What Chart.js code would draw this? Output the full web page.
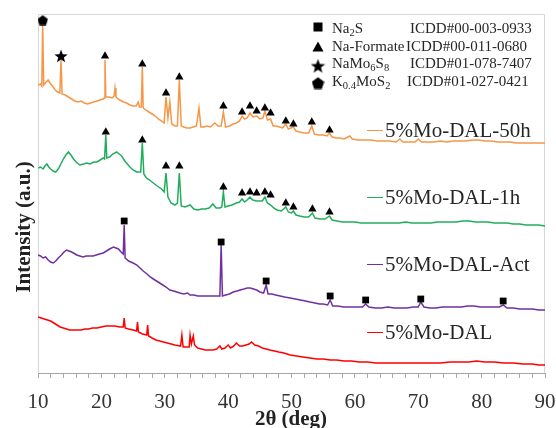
<!DOCTYPE html>
<html>
<head>
<meta charset="utf-8">
<script src="https://cdn.jsdelivr.net/npm/chart.js@4/dist/chart.umd.min.js"></script>
<style>
  html, body { margin: 0; padding: 0; background: #fff; }
</style>
</head>
<body>
<canvas id="xrd" width="556" height="428"></canvas>
<script>
// sample names and line colours (top to bottom)
const sampleNames = ['5%Mo-DAL-50h', '5%Mo-DAL-1h', '5%Mo-DAL-Act', '5%Mo-DAL'];
const lineColors = ['#f79646', '#22ad5c', '#7030a0', '#ff0000'];

// 5%Mo-DAL-50h
const tt50h = [10.0,10.4,10.6,10.74,10.9,11.3,11.6,11.9,12.3,12.7, 13.1,13.45,13.63,13.8,14.3,14.8,15.3,15.8,16.3,16.8,
  17.3,17.8,18.3,18.8,19.3,19.8,20.3,20.45,20.57,20.7, 21.2,21.7,22.0,22.15,22.3,22.9,23.5,24.0,24.5,25.0,
  25.5,25.8,26.0,26.3,26.46,26.6,27.0,27.5,28.0,28.5, 29.0,29.5,29.9,30.2,30.5,30.8,31.1,31.6,32.0,32.3,
  32.6,33.0,33.5,34.0,34.5,35.0,35.4,35.7,36.2,36.7, 37.2,37.9,38.4,38.9,39.25,39.6,40.2,40.8,41.3,41.8,
  42.2,42.6,43.0,43.45,43.9,44.5,45.0,45.5,45.8,46.2, 46.7,47.1,47.6,48.1,48.6,49.1,49.5,50.3,50.7,51.3,
  52.0,52.7,53.2,53.6,54.3,55.0,55.6,56.0,56.4,57.0, 57.6,58.3,59.2,59.6,60.5,61.5,62.5,63.5,64.5,65.5,
  66.5,67.1,67.6,68.5,69.5,70.0,70.5,71.5,72.5,73.5, 74.5,75.5,76.5,77.5,78.5,79.5,80.5,81.5,82.5,83.5,
  84.5,85.5,86.5,87.5,88.5,89.5,90.0];
const int50h = [288,289,287,348,288,291,293,290,287,283, 281,280,313,279,278,276,274,272,271,272,
  270,269,270,271,272,273,274,275,313,276, 276,275,277,285,276,273,271,270,268,267,
  267,271,266,266,306,265,263,261,259,257, 254,252,250,276,255,271,249,247,247,293,
  247,246,245,245,246,247,265,246,246,247, 246,250,247,247,261,246,247,249,250,252,
  257,254,255,260,256,257,254,255,262,253, 254,247,247,246,245,249,244,246,242,241,
  240,240,247,239,238,238,237,240,236,235, 235,234,237,234,233,233,233,232,232,232,
  231,234,231,231,231,234,231,231,231,232, 231,232,232,232,233,233,232,232,231,231,
  231,230,230,230,230,230,230];

// 5%Mo-DAL-1h
const tt1h = [10.0,10.4,10.8,11.1,11.4,11.7,12.0,12.4,12.8,13.2, 13.6,14.0,14.4,14.8,15.2,15.6,16.0,16.6,17.2,17.7,
  18.2,18.8,19.3,19.8,20.3,20.5,20.7,20.85,21.3,21.8, 22.4,22.8,23.2,23.7,24.1,24.5,25.0,25.6,26.2,26.46,
  26.7,27.1,27.6,28.2,28.8,29.5,29.9,30.2,30.5,31.0, 31.6,32.0,32.3,32.6,33.2,34.0,34.6,35.2,35.8,36.4,
  37.0,37.6,38.1,38.7,39.0,39.25,39.5,40.0,40.6,41.3, 41.8,42.2,42.6,43.0,43.45,43.9,44.5,45.0,45.4,45.8,
  46.2,46.7,47.2,47.7,48.4,49.1,49.5,50.0,50.3,50.7, 51.3,52.0,52.7,53.3,53.7,54.5,55.3,56.0,56.4,57.2,
  58.0,59.0,60.0,61.0,62.0,63.0,64.0,65.0,66.0,67.0, 68.0,69.0,70.0,71.0,72.0,73.0,74.0,75.0,76.0,77.0,
  78.0,79.0,80.0,81.0,82.0,83.0,84.0,85.0,86.0,87.0, 88.0,89.0,90.0];
const int1h = [205,206,204,207,209,206,204,202,201,204, 209,214,218,221,218,214,211,208,209,210,
  209,211,211,213,215,214,238,215,216,219, 221,219,217,212,209,206,203,201,201,230,
  199,195,193,190,187,184,181,200,176,170, 168,170,200,167,166,168,164,163,164,164,
  165,169,165,165,166,181,166,167,168,170, 171,174,171,173,176,173,172,172,172,176,
  170,168,165,163,162,166,161,160,162,158, 157,156,156,160,155,154,154,157,153,152,
  151,151,151,150,150,150,150,150,150,150, 151,150,150,150,150,151,151,151,151,152,
  152,151,151,151,150,150,150,149,149,148, 148,148,147];

// 5%Mo-DAL-Act
const ttAct = [10.0,10.4,10.8,11.2,11.6,12.0,12.4,12.8,13.2,13.7, 14.1,14.5,14.9,15.3,15.6,16.1,16.6,17.1,17.6,18.1,
  18.7,19.2,19.7,20.3,20.8,21.3,21.9,22.3,22.7,23.1, 23.45,23.6,23.75,24.3,25.0,25.6,26.1,26.6,27.2,27.7,
  28.2,28.7,29.2,29.7,30.2,30.8,31.4,31.9,32.4,33.0, 33.6,34.0,34.6,35.2,35.8,36.4,37.0,37.6,38.2,38.7,
  38.9,39.1,39.6,40.2,40.8,41.4,41.9,42.5,43.0,43.5, 44.0,44.5,45.0,45.6,46.0,46.3,46.9,47.5,48.2,48.9,
  49.8,50.6,51.4,52.2,52.9,53.7,54.4,55.0,55.7,56.1, 56.5,57.3,58.2,59.2,60.3,61.2,61.7,62.2,63.2,64.2,
  65.2,66.2,67.2,68.2,69.2,70.0,70.4,70.9,71.8,72.8, 73.8,74.8,75.8,76.8,77.8,78.8,79.8,80.8,81.8,82.8,
  83.4,84.0,85.0,86.0,87.0,88.0,89.0,90.0];
const intAct = [118,117,115,116,113,111,110,112,115,118, 121,123,122,121,120,118,117,116,117,117,
  117,118,119,120,122,124,126,125,124,121, 119,148,115,112,110,108,105,102,99,96,
  94,92,90,88,86,83,82,81,80,79, 80,78,78,77,77,77,77,77,77,77,
  128,77,78,79,81,82,83,84,85,85, 84,83,81,80,88,79,79,78,77,76,
  75,74,73,72,71,70,69,69,68,73, 67,67,66,66,66,66,69,66,65,65,
  66,65,65,65,66,66,71,66,65,65, 66,66,66,66,67,67,66,66,66,66,
  68,65,65,64,64,64,63,63];

// 5%Mo-DAL
const ttDal = [10.0,10.5,11.0,11.5,12.0,12.5,13.0,13.5,14.0,14.5, 15.0,15.6,16.2,16.8,17.4,18.0,18.6,19.3,20.0,20.7,
  21.4,22.1,22.9,23.45,23.6,23.75,24.3,25.0,25.55,25.7, 25.85,26.5,27.15,27.3,27.45,28.0,28.6,29.2,29.8,30.4,
  31.0,31.6,32.5,32.7,32.9,33.4,33.85,34.0,34.2,34.5, 34.7,35.2,35.8,36.4,37.0,37.6,38.2,38.7,39.0,39.5,
  40.0,40.4,40.9,41.3,41.8,42.3,42.8,43.3,43.7,44.2, 44.8,45.4,46.0,46.6,47.3,48.0,48.8,49.8,50.8,51.8,
  52.9,54.0,55.0,56.1,57.1,58.3,59.5,60.7,62.0,63.3, 64.6,66.0,67.6,69.0,70.5,72.0,73.5,75.0,76.5,78.0,
  79.2,80.5,82.0,83.5,85.0,86.5,88.0,89.0,90.0];
const intDal = [56,55,54,53,52,50,48,46,45,44, 43,43,43,43,44,44,45,45,46,47,
  47,47,46,46,55,45,44,43,42,51, 41,39,38,48,37,35,33,32,31,30,
  29,28,27,38,26,26,26,38,29,37, 28,25,24,23,23,23,24,27,24,25,
  28,25,27,30,27,27,28,29,31,28, 27,25,24,23,22,21,20,18,17,16,
  15,14,14,13,13,12,12,11,11,10, 10,10,10,10,10,10,10,11,11,11,
  12,11,11,10,10,9,9,8,8];

// phase markers above peaks
const na2sX = [23.6, 38.9, 46.0, 56.1, 61.7, 70.4, 83.4];
const na2sY = [152, 131, 92, 77, 73, 74, 72];
const formate50hX = [20.57, 26.46, 30.2, 32.3, 39.25, 42.2, 43.45, 44.5, 45.8, 46.7, 49.1, 50.3, 53.2, 56.0];
const formate50hY = [317, 309, 280, 296, 267, 261, 267, 262, 265, 260, 252, 249, 251, 243];
const formate1hX = [20.7, 26.46, 30.2, 32.3, 39.25, 42.2, 43.45, 44.5, 45.8, 46.7, 49.1, 50.3, 53.3, 56.0];
const formate1hY = [241, 233, 207, 207, 186, 180, 181, 180, 181, 178, 170, 166, 164, 161];
const naMoSX = [13.63];
const naMoSY = [317];
const kMoSX = [10.74];
const kMoSY = [353];

// phase legend
const phaseNames = [
  [['Na', 0], ['2', 1], ['S', 0]],
  [['Na-Formate', 0]],
  [['NaMo', 0], ['6', 1], ['S', 0], ['8', 1]],
  [['K', 0], ['0.4', 1], ['MoS', 0], ['2', 1]]
];
const phaseCards = ['ICDD#00-003-0933', 'ICDD#00-011-0680', 'ICDD#01-078-7407', 'ICDD#01-027-0421'];

const pts = (xs, ys) => xs.map((x, i) => ({ x, y: ys[i] }));

function starCanvas(size) {
  const c = document.createElement('canvas');
  c.width = c.height = size;
  const g = c.getContext('2d');
  const R = size / 2, r = R * 0.42;
  g.beginPath();
  for (let i = 0; i < 10; i++) {
    const a = -Math.PI / 2 + i * Math.PI / 5;
    const rad = i % 2 ? r : R;
    g.lineTo(R + rad * Math.cos(a), R + 0.6 + rad * Math.sin(a));
  }
  g.closePath();
  g.fillStyle = '#000';
  g.fill();
  return c;
}

function pentagonCanvas(size) {
  const c = document.createElement('canvas');
  c.width = c.height = size;
  const g = c.getContext('2d');
  const R = size / 2;
  g.beginPath();
  for (let i = 0; i < 5; i++) {
    const a = -Math.PI / 2 + i * 2 * Math.PI / 5;
    g.lineTo(R + R * Math.cos(a), R + 0.8 + R * Math.sin(a));
  }
  g.closePath();
  g.fillStyle = '#000';
  g.fill();
  return c;
}

const starImg = starCanvas(14);
const pentImg = pentagonCanvas(11);
const starLegend = starCanvas(15);
const pentLegend = pentagonCanvas(13);

const serif = '"Liberation Serif", "Times New Roman", serif';

function drawFormula(ctx, parts, x, y) {
  let cx = x;
  parts.forEach(([t, sub]) => {
    ctx.font = (sub ? '10.5px ' : '15px ') + serif;
    ctx.fillText(t, cx, sub ? y + 3 : y);
    cx += ctx.measureText(t).width;
  });
}

const decor = {
  id: 'decor',
  beforeDatasetsDraw(chart) {
    const { ctx, chartArea: a } = chart;
    ctx.save();
    ctx.strokeStyle = '#d6d6d6';
    ctx.lineWidth = 1;
    ctx.beginPath();
    ctx.moveTo(a.left + 0.5, a.bottom);
    ctx.lineTo(a.left + 0.5, a.top + 0.5);
    ctx.lineTo(a.right - 0.5, a.top + 0.5);
    ctx.lineTo(a.right - 0.5, a.bottom);
    ctx.stroke();
    ctx.restore();
  },
  afterDraw(chart) {
    const { ctx } = chart;
    ctx.save();
    ctx.textBaseline = 'alphabetic';
    ctx.fillStyle = '#222';

    // axis titles
    ctx.textAlign = 'center';
    ctx.font = 'bold 21px ' + serif;
    ctx.fillText('2θ (deg)', 291, 425);
    ctx.save();
    ctx.translate(30, 227);
    ctx.rotate(-Math.PI / 2);
    ctx.fillText('Intensity (a.u.)', 0, 0);
    ctx.restore();

    // inline series labels
    const labelY = [130, 197, 264, 332];
    ctx.textAlign = 'left';
    ctx.textBaseline = 'middle';
    sampleNames.forEach((name, i) => {
      ctx.strokeStyle = lineColors[i];
      ctx.lineWidth = 1;
      ctx.beginPath();
      ctx.moveTo(367, labelY[i] + 0.5);
      ctx.lineTo(383, labelY[i] + 0.5);
      ctx.stroke();
      ctx.fillStyle = '#262626';
      ctx.font = '21px ' + serif;
      ctx.fillText(name, 385, labelY[i] + 1);
    });

    // phase legend
    const rowY = [33, 50.5, 68, 85.5];
    const cardX = [410, 406, 410, 407];
    ctx.textBaseline = 'alphabetic';
    ctx.fillStyle = '#000';
    ctx.fillRect(313.5, 22.5, 9, 9);
    ctx.beginPath();
    ctx.moveTo(318, 41.5);
    ctx.lineTo(323.5, 51.5);
    ctx.lineTo(312.5, 51.5);
    ctx.closePath();
    ctx.fill();
    ctx.drawImage(starLegend, 318 - 7.5, 66 - 7.5);
    ctx.drawImage(pentLegend, 318 - 6.5, 83 - 6.5);
    ctx.fillStyle = '#262626';
    phaseNames.forEach((parts, i) => {
      drawFormula(ctx, parts, 332, rowY[i]);
      ctx.font = '15px ' + serif;
      ctx.fillText(phaseCards[i], cardX[i], rowY[i]);
    });
    ctx.restore();
  }
};

const lineSet = (label, xs, ys, color) => ({
  label, data: pts(xs, ys), borderColor: color, backgroundColor: color,
  borderWidth: 1.5, pointRadius: 0, tension: 0, order: 2
});

const markSet = (label, xs, ys, style, radius) => ({
  label, data: pts(xs, ys), showLine: false, pointStyle: style,
  pointRadius: radius, pointBackgroundColor: '#000', pointBorderWidth: 0,
  pointBorderColor: '#000', order: 1
});

new Chart(document.getElementById('xrd').getContext('2d'), {
  type: 'line',
  data: {
    datasets: [
      lineSet(sampleNames[0], tt50h, int50h, lineColors[0]),
      lineSet(sampleNames[1], tt1h, int1h, lineColors[1]),
      lineSet(sampleNames[2], ttAct, intAct, lineColors[2]),
      lineSet(sampleNames[3], ttDal, intDal, lineColors[3]),
      markSet('Na2S', na2sX, na2sY, 'rect', 4.8),
      markSet('Na-Formate 50h', formate50hX, formate50hY, 'triangle', 4.8),
      markSet('Na-Formate 1h', formate1hX, formate1hY, 'triangle', 4.8),
      markSet('NaMo6S8', naMoSX, naMoSY, starImg, 7),
      markSet('K0.4MoS2', kMoSX, kMoSY, pentImg, 6)
    ]
  },
  options: {
    responsive: false,
    animation: false,
    layout: { padding: { left: 38, right: 11, top: 14, bottom: 0 } },
    plugins: { legend: { display: false }, tooltip: { enabled: false } },
    scales: {
      x: {
        type: 'linear', min: 10, max: 90,
        afterFit: s => { s.height = 55; s.paddingLeft = 0; s.paddingRight = 0; },
        border: { color: '#a6a6a6', width: 1 },
        grid: { drawOnChartArea: false, drawTicks: true, tickLength: 5, color: '#a6a6a6' },
        ticks: {
          stepSize: 2, autoSkip: false, maxRotation: 0, padding: 12,
          color: '#333', font: { family: 'Liberation Serif', size: 21 },
          callback: v => (v % 10 === 0 ? v : '')
        }
      },
      y: { display: false, min: 0, max: 359 }
    }
  },
  plugins: [decor]
});
</script>
</body>
</html>
